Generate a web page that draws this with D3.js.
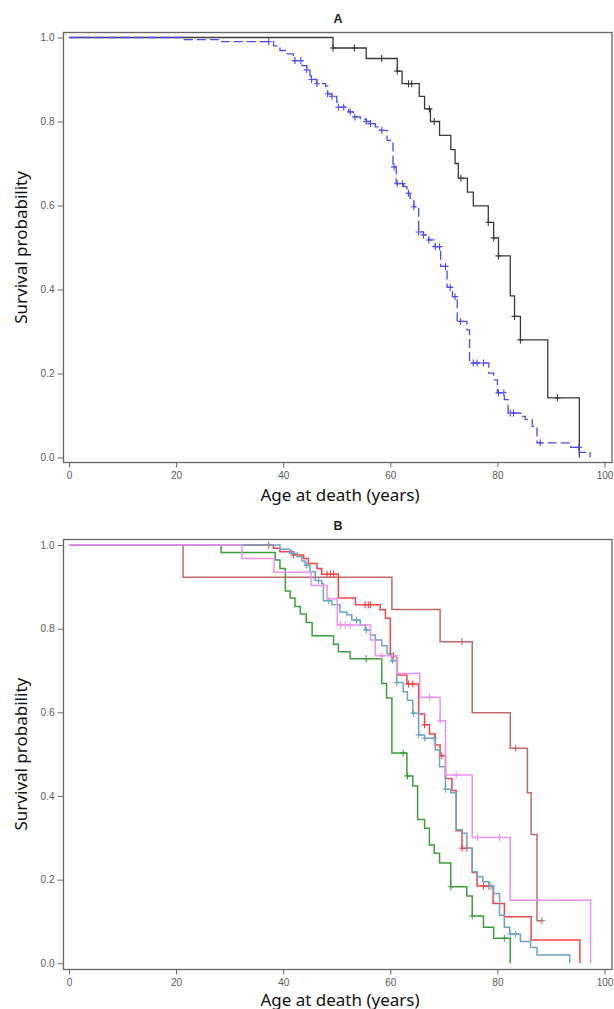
<!DOCTYPE html>
<html lang="en">
<head>
<meta charset="UTF-8">
<title>Survival probability by age at death</title>
<script src="https://cdn.jsdelivr.net/npm/d3@7"></script>
<style>
body { margin: 0; background: #fff; }
.tick text { font: 10px "Liberation Sans", Arial, sans-serif; fill: #5a5a5a; }
.tick line { stroke: #666; }
.frame { fill: none; stroke: #666; stroke-width: 1.3; }
.axlabel { font: 17px "Noto Sans", sans-serif; fill: #111; }
.ptitle { font: bold 12.5px "Liberation Sans", Arial, sans-serif; fill: #222; }
</style>
</head>
<body>
<svg width="614" height="1009"></svg>
<script>
// ---- panel A: two groups (time of death, survival after the drop; censored times)
var blackTimes = [49.3, 55.5, 61.3, 62.2, 65.4, 66.4, 67.5, 69.2, 71.3, 72.1, 72.7, 74.4, 75.5, 78.3, 79.3, 80.2, 82.4, 83.2, 84.3, 89.4, 95.3]
var blackSurv  = [0.975, 0.95, 0.92, 0.89, 0.86, 0.83, 0.80, 0.767, 0.733, 0.70, 0.665, 0.632, 0.599, 0.56, 0.523, 0.48, 0.385, 0.336, 0.28, 0.142, 0]
var blackCens  = [49.3, 53.3, 58.4, 61.3, 63.4, 64.0, 67.3, 68.2, 73.2, 78.3, 79.3, 80.2, 83.2, 84.3, 91.2]

var blueTimes = [21.5, 28.5, 38.2, 39.4, 40.4, 41.9, 43.5, 44.4, 45.0, 45.2, 46.3, 47.9, 48.3, 49.1, 50.0, 50.2,
  52.2, 53.1, 54.4, 55.5, 56.3, 57.2, 58.1, 59.4, 60.5, 61.1, 62.5, 63.1, 63.7, 64.4, 65.3, 66.2, 67.2, 68.4,
  69.4, 70.6, 71.6, 72.5, 74.3, 74.8, 78.4, 79.3, 80.0, 81.3, 82.0, 84.3, 85.2, 86.5, 87.4, 93.7, 95.3, 97.3]
var blueSurv = [0.995, 0.99, 0.98, 0.969, 0.961, 0.945, 0.933, 0.923, 0.91, 0.90, 0.89, 0.884, 0.866, 0.86, 0.846, 0.834,
  0.823, 0.811, 0.805, 0.80, 0.795, 0.787, 0.779, 0.755, 0.692, 0.652, 0.645, 0.629, 0.617, 0.597, 0.537, 0.53, 0.518, 0.502,
  0.455, 0.405, 0.383, 0.324, 0.304, 0.225, 0.201, 0.185, 0.154, 0.138, 0.106, 0.098, 0.09, 0.074, 0.035, 0.024, 0.012, 0]
var blueCens = [37.3, 42.2, 43.3, 44.4, 45.3, 46.3, 48.3, 49.1, 50.3, 51.3, 52.5, 53.4, 55.5, 56.3, 58.4, 60.7, 61.3,
  62.3, 63.4, 64.4, 65.3, 66.2, 67.2, 68.4, 69.2, 70.3, 71.2, 72.1, 73.1, 75.5, 76.2, 77.4, 80.2, 81.2, 82.4, 83.0, 88.0, 95.2]

// ---- panel B: five groups
var brownTimes = [21.3, 60.3, 69.3, 75.3, 82.4, 85.6, 86.3, 87.4]
var brownSurv  = [0.923, 0.846, 0.769, 0.599, 0.514, 0.408, 0.308, 0.102]
var brownCens  = [73.4, 83.4, 88.3]

var greenTimes = [28.4, 38.5, 39.4, 40.4, 41.3, 42.2, 43.2, 44.3, 45.4, 49.4, 50.3, 52.5, 58.4, 59.3, 60.3,
  63.1, 64.2, 65.1, 66.4, 67.3, 68.2, 69.2, 71.3, 74.3, 75.3, 77.4, 79.3, 82.4]
var greenSurv  = [0.982, 0.964, 0.944, 0.89, 0.873, 0.853, 0.835, 0.815, 0.783, 0.763, 0.745, 0.728, 0.669, 0.634, 0.503,
  0.448, 0.424, 0.344, 0.323, 0.283, 0.263, 0.24, 0.183, 0.161, 0.113, 0.086, 0.06, 0]
var greenCens  = [55.5, 62.4, 63.2, 71.3, 75.3, 81.3]

var redTimes = [38.2, 39.4, 41.9, 43.8, 44.7, 46.3, 47.2, 50.3, 53.5, 58.1, 59.1, 60.0, 61.2, 63.1, 65.3, 66.4,
  67.3, 68.4, 69.3, 70.3, 71.5, 72.3, 73.4, 75.3, 76.2, 79.2, 81.3, 86.3, 95.4]
var redSurv  = [0.992, 0.984, 0.976, 0.968, 0.956, 0.944, 0.93, 0.873, 0.857, 0.845, 0.825, 0.735, 0.689, 0.668, 0.596, 0.57,
  0.548, 0.522, 0.496, 0.442, 0.413, 0.317, 0.275, 0.217, 0.185, 0.143, 0.111, 0.056, 0]
var redCens  = [37.3, 41.9, 48.2, 48.8, 49.4, 55.3, 55.9, 56.3, 60.6, 63.4, 64.2, 66.4, 69.6, 73.4, 74.3, 77.4, 78.4]

var steelTimes = [39.4, 41.3, 42.6, 43.5, 44.1, 45.0, 46.0, 47.2, 47.5, 49.1, 50.6, 51.9, 52.8, 54.4, 55.3, 56.3, 57.2,
  58.4, 59.4, 60.3, 61.2, 62.4, 63.2, 64.2, 65.3, 66.4, 68.4, 69.2, 70.3, 71.3, 72.3, 73.4, 74.3, 75.3, 76.2, 77.3,
  78.4, 79.3, 80.4, 81.3, 82.3, 84.3, 86.2, 87.4, 93.5]
var steelSurv  = [0.99, 0.98, 0.972, 0.962, 0.952, 0.936, 0.915, 0.908, 0.867, 0.857, 0.84, 0.833, 0.821, 0.809, 0.797, 0.785, 0.773,
  0.759, 0.74, 0.723, 0.671, 0.649, 0.629, 0.598, 0.546, 0.538, 0.51, 0.47, 0.416, 0.408, 0.319, 0.311, 0.275, 0.219, 0.207, 0.195,
  0.185, 0.167, 0.115, 0.086, 0.07, 0.052, 0.038, 0.02, 0]
var steelCens  = [41.6, 44.4, 46.6, 48.5, 53.7, 55.5, 60.4, 61.2, 64.3, 65.3, 66.4, 68.2, 70.3, 78.8, 82.4, 83.4]

var pinkTimes = [32.3, 38.3, 45.2, 48.2, 50.1, 56.3, 57.2, 61.2, 65.5, 69.3, 70.3, 75.3, 82.4, 97.4]
var pinkSurv  = [0.968, 0.935, 0.903, 0.871, 0.809, 0.773, 0.735, 0.693, 0.636, 0.58, 0.45, 0.301, 0.151, 0]
var pinkCens  = [50.7, 51.6, 52.5, 58.4, 67.3, 69.3, 72.3, 76.3, 80.4]

var xTicks = [0, 20, 40, 60, 80, 100]
var yTicks = [0, 0.2, 0.4, 0.6, 0.8, 1.0]

var svg = d3.select('svg')
var x = d3.scaleLinear().domain([0, 100]).range([69, 604.5])

function curve(times, surv, cens, color, dash, width) {
  return {times: times, surv: surv, cens: cens, color: color, dash: dash, width: width}
}

// survival value at time t (value after any drop at t)
function survAt(c, t) {
  var i = d3.bisectRight(c.times, t + 1e-6)
  return i == 0 ? 1 : c.surv[i - 1]
}

function drawPanel(p) {
  var y = d3.scaleLinear().domain([0, 1]).range([p.y0, p.y1])
  var g = svg.append('g')

  g.append('rect').attr('class', 'frame')
    .attr('x', 63.5).attr('y', p.top)
    .attr('width', 548.5).attr('height', p.bottom - p.top)

  g.append('g')
    .attr('transform', 'translate(63.5,0)')
    .call(d3.axisLeft(y).tickValues(yTicks).tickFormat(d3.format('.1f')).tickSize(6).tickPadding(3))
    .call(a => a.select('.domain').remove())

  g.append('g')
    .attr('transform', 'translate(0,' + p.bottom + ')')
    .call(d3.axisBottom(x).tickValues(xTicks).tickFormat(d3.format('d')).tickSize(5).tickPadding(4))
    .call(a => a.select('.domain').remove())

  g.append('text').attr('class', 'ptitle')
    .attr('x', 338).attr('y', p.top - 10).attr('text-anchor', 'middle')
    .text(p.title)

  g.append('text').attr('class', 'axlabel')
    .attr('x', 340).attr('y', p.bottom + p.labelGap).attr('text-anchor', 'middle')
    .text('Age at death (years)')

  g.append('text').attr('class', 'axlabel')
    .attr('transform', 'translate(27,' + (p.y0 + p.y1) / 2 + ') rotate(-90)')
    .attr('text-anchor', 'middle')
    .text('Survival probability')

  var line = d3.line().x(d => x(d[0])).y(d => y(d[1])).curve(d3.curveStepAfter)

  p.curves.forEach(function(c) {
    var pts = [[0, 1]]
    c.times.forEach((t, i) => pts.push([t, c.surv[i]]))
    var lastC = d3.max(c.cens)
    if (lastC > c.times[c.times.length - 1]) pts.push([lastC, c.surv[c.surv.length - 1]])

    g.append('path')
      .attr('d', line(pts))
      .attr('fill', 'none')
      .attr('stroke', c.color)
      .attr('stroke-width', c.width)
      .attr('stroke-dasharray', c.dash)

    g.selectAll(null)
      .data(c.cens)
      .enter()
      .append('path')
      .attr('d', t => {
        var cx = x(t), cy = y(survAt(c, t))
        return 'M' + cx + ',' + (cy - 3.5) + 'V' + (cy + 3.5) + 'M' + (cx - 3) + ',' + cy + 'H' + (cx + 3)
      })
      .attr('stroke', c.color)
      .attr('stroke-width', 1.1)
  })
}

drawPanel({
  title: 'A', top: 32.5, bottom: 462.5, y0: 457.5, y1: 37.5, labelGap: 38,
  curves: [
    curve(blackTimes, blackSurv, blackCens, '#3a3a3a', null, 1.3),
    curve(blueTimes, blueSurv, blueCens, '#4b4bf5', '9,4', 1.3)
  ]
})

drawPanel({
  title: 'B', top: 539.5, bottom: 969.5, y0: 963.3, y1: 545, labelGap: 36,
  curves: [
    curve(brownTimes, brownSurv, brownCens, '#bf6a6a', null, 1.5),
    curve(greenTimes, greenSurv, greenCens, '#3e9e3e', null, 1.5),
    curve(redTimes, redSurv, redCens, '#f24545', null, 1.5),
    curve(steelTimes, steelSurv, steelCens, '#6ea3c4', null, 1.5),
    curve(pinkTimes, pinkSurv, pinkCens, '#ee90ee', null, 1.5)
  ]
})
</script>
</body>
</html>
